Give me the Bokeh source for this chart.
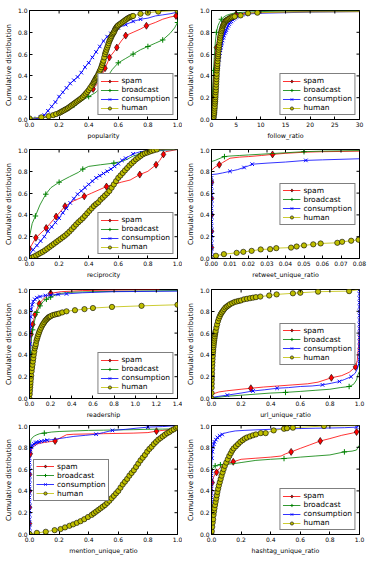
import math
from bokeh.plotting import figure
from bokeh.models import Range1d, FixedTicker, PrintfTickFormatter, Legend, LegendItem
from bokeh.layouts import column, row
from bokeh.embed import file_html
from bokeh.resources import INLINE

FONT = "DejaVu Sans"
SERIES = ["spam", "broadcast", "consumption", "human"]
COLORS = ["#ff0000", "#008000", "#0000ff", "#bfbf00"]
MARKERS = ["diamond", "cross", "x", "circle"]
Y_TICKS = [0.0, 0.2, 0.4, 0.6, 0.8, 1.0]
Y_LABEL = "Cumulative distribution"

# ---------------- popularity ----------------
pop_xticks = [0.0, 0.2, 0.4, 0.6, 0.8, 1.0]
pop_spam_x = [0.0, 0.05, 0.1, 0.15, 0.2, 0.25, 0.3, 0.35, 0.4, 0.43, 0.46, 0.48, 0.5, 0.51, 0.53, 0.54, 0.57, 0.59, 0.62, 0.65, 0.7, 0.75, 0.79, 0.85, 0.9, 0.95, 0.99, 1.0]
pop_spam_y = [0.0, 0.01, 0.02, 0.04, 0.07, 0.1, 0.14, 0.18, 0.24, 0.28, 0.33, 0.38, 0.44, 0.47, 0.53, 0.57, 0.62, 0.66, 0.72, 0.77, 0.8, 0.83, 0.86, 0.89, 0.92, 0.94, 0.95, 0.96]
pop_spam_mx = [0.43, 0.48, 0.51, 0.54, 0.59, 0.65, 0.79, 0.99]
pop_spam_my = [0.28, 0.38, 0.47, 0.57, 0.66, 0.77, 0.86, 0.95]
pop_bc_x = [0.0, 0.1, 0.2, 0.3, 0.35, 0.4, 0.45, 0.47, 0.5, 0.53, 0.56, 0.6, 0.65, 0.7, 0.75, 0.8, 0.85, 0.9, 0.95, 0.98, 1.0]
pop_bc_y = [0.01, 0.02, 0.06, 0.13, 0.17, 0.21, 0.25, 0.28, 0.32, 0.4, 0.46, 0.52, 0.56, 0.6, 0.64, 0.67, 0.7, 0.73, 0.79, 0.84, 0.89]
pop_bc_mx = [0.3, 0.4, 0.5, 0.6, 0.7, 0.8, 0.9, 1.0]
pop_bc_my = [0.13, 0.21, 0.32, 0.52, 0.6, 0.67, 0.73, 0.89]
pop_cons_x = [0.0, 0.025, 0.05, 0.075, 0.1, 0.125, 0.15, 0.175, 0.2, 0.225, 0.25, 0.275, 0.3, 0.325, 0.35, 0.375, 0.4, 0.425, 0.45, 0.475, 0.5, 0.525, 0.55, 0.575, 0.6, 0.65, 0.7, 0.75, 0.8, 0.85, 0.9, 0.95, 1.0]
pop_cons_y = [0.0, 0.005, 0.01, 0.02, 0.04, 0.08, 0.12, 0.16, 0.21, 0.25, 0.29, 0.33, 0.36, 0.39, 0.43, 0.48, 0.52, 0.57, 0.62, 0.67, 0.72, 0.76, 0.79, 0.82, 0.84, 0.87, 0.9, 0.92, 0.93, 0.95, 0.96, 0.97, 0.985]
pop_hum_pts = [
    (0.0, 0.01), (0.08, 0.02), (0.13, 0.03), (0.16, 0.04), (0.18, 0.05), (0.2, 0.06), (0.21, 0.067),
    (0.22, 0.075), (0.23, 0.082), (0.24, 0.09), (0.25, 0.097), (0.26, 0.105), (0.27, 0.115), (0.28, 0.125),
    (0.29, 0.135), (0.3, 0.145), (0.31, 0.155), (0.32, 0.165), (0.33, 0.175), (0.34, 0.185), (0.35, 0.195),
    (0.36, 0.207), (0.37, 0.222), (0.38, 0.237), (0.39, 0.253), (0.4, 0.27), (0.41, 0.29), (0.42, 0.31),
    (0.43, 0.33), (0.435, 0.342), (0.44, 0.355), (0.445, 0.367), (0.45, 0.38), (0.455, 0.39), (0.46, 0.4),
    (0.465, 0.415), (0.47, 0.43), (0.475, 0.445), (0.48, 0.46), (0.485, 0.48), (0.49, 0.5), (0.495, 0.52),
    (0.5, 0.54), (0.505, 0.57), (0.51, 0.6), (0.515, 0.62), (0.52, 0.64), (0.525, 0.66), (0.53, 0.68),
    (0.535, 0.7), (0.54, 0.72), (0.545, 0.735), (0.55, 0.75), (0.555, 0.765), (0.56, 0.78), (0.565, 0.79),
    (0.57, 0.8), (0.575, 0.815), (0.58, 0.83), (0.585, 0.84), (0.59, 0.85), (0.595, 0.858), (0.6, 0.865),
    (0.61, 0.875), (0.62, 0.885), (0.63, 0.895), (0.64, 0.905), (0.65, 0.915), (0.66, 0.925), (0.67, 0.933),
    (0.68, 0.94), (0.69, 0.945), (0.7, 0.95), (0.75, 0.97), (0.8, 0.98), (0.87, 0.99), (1.0, 1.0)]

# ---------------- follow_ratio ----------------
fr_xticks = [0, 5, 10, 15, 20, 25, 30]
fr_spam_x = [0.0, 0.1, 0.2, 0.3, 0.5, 0.7, 1.0, 1.3, 1.7, 2.2, 3.0, 4.0, 5.0, 7.0, 10.0, 15.0, 20.0, 30.0]
fr_spam_y = [0.0, 0.1, 0.19, 0.3, 0.45, 0.57, 0.66, 0.75, 0.83, 0.88, 0.92, 0.95, 0.965, 0.975, 0.98, 0.985, 0.99, 0.99]
fr_spam_mx = [0.2, 1.0, 5.0]
fr_spam_my = [0.19, 0.66, 0.965]
fr_bc_x = [0.0, 0.1, 0.2, 0.3, 0.4, 0.6, 0.8, 1.0, 1.3, 1.6, 2.0, 2.5, 3.0, 4.0, 5.0, 7.0, 10.0, 15.0, 30.0]
fr_bc_y = [0.0, 0.15, 0.25, 0.35, 0.45, 0.6, 0.72, 0.8, 0.86, 0.89, 0.92, 0.94, 0.955, 0.97, 0.98, 0.985, 0.99, 0.995, 0.995]
fr_bc_mx = [0.4, 1.0, 2.0]
fr_bc_my = [0.45, 0.8, 0.92]
fr_cons_x = [0.0, 0.5, 0.6, 0.7, 0.8, 0.9, 1.0, 1.1, 1.2, 1.3, 1.4, 1.5, 1.6, 1.7, 1.8, 1.9, 2.0, 2.1, 2.25, 2.4, 2.55, 2.7, 2.85, 3.0, 3.2, 3.4, 3.6, 3.8, 4.05, 4.3, 4.55, 4.8, 5.05, 5.3, 5.65, 6.0, 7.0, 8.0, 10.0, 15.0, 20.0, 30.0]
fr_cons_y = [0.0, 0.01, 0.03, 0.08, 0.15, 0.22, 0.3, 0.37, 0.43, 0.48, 0.515, 0.55, 0.58, 0.61, 0.635, 0.66, 0.68, 0.7, 0.725, 0.75, 0.77, 0.79, 0.805, 0.82, 0.84, 0.86, 0.875, 0.89, 0.9, 0.915, 0.925, 0.935, 0.943, 0.95, 0.955, 0.96, 0.965, 0.97, 0.975, 0.98, 0.985, 0.99]
fr_hum_pts = [
    (0.3, 0.0), (0.38, 0.012), (0.44, 0.025), (0.5, 0.045), (0.54, 0.06), (0.58, 0.08), (0.62, 0.1),
    (0.66, 0.12), (0.7, 0.145), (0.73, 0.165), (0.76, 0.185), (0.79, 0.205), (0.82, 0.225), (0.85, 0.25),
    (0.88, 0.27), (0.91, 0.295), (0.94, 0.32), (0.97, 0.345), (1.0, 0.37), (1.03, 0.395), (1.06, 0.42),
    (1.1, 0.45), (1.13, 0.47), (1.16, 0.49), (1.2, 0.51), (1.24, 0.535), (1.28, 0.56), (1.32, 0.58),
    (1.36, 0.6), (1.4, 0.62), (1.45, 0.64), (1.5, 0.66), (1.56, 0.68), (1.62, 0.705), (1.68, 0.725),
    (1.75, 0.75), (1.82, 0.77), (1.9, 0.79), (2.0, 0.81), (2.1, 0.825), (2.2, 0.84), (2.3, 0.855),
    (2.4, 0.865), (2.5, 0.875), (2.6, 0.885), (2.75, 0.895), (2.9, 0.905), (3.05, 0.91), (3.2, 0.915),
    (3.4, 0.92), (3.6, 0.927), (3.85, 0.933), (4.1, 0.938), (4.4, 0.942), (4.7, 0.945), (5.9, 0.955),
    (7.4, 0.975), (9.3, 0.98), (15.0, 0.985), (30.0, 0.99)]

# ---------------- reciprocity ----------------
rec_xticks = [0.0, 0.2, 0.4, 0.6, 0.8, 1.0]
rec_spam_x = [0.0, 0.043, 0.113, 0.18, 0.24, 0.3, 0.37, 0.42, 0.47, 0.52, 0.57, 0.62, 0.68, 0.745, 0.8, 0.855, 0.88, 0.905, 0.92, 1.0]
rec_spam_y = [0.09, 0.19, 0.28, 0.385, 0.48, 0.53, 0.57, 0.6, 0.63, 0.66, 0.68, 0.7, 0.72, 0.77, 0.8, 0.86, 0.9, 0.955, 0.98, 1.0]
rec_spam_mx = [0.0, 0.043, 0.113, 0.18, 0.24, 0.37, 0.52, 0.745, 0.855, 0.905]
rec_spam_my = [0.09, 0.19, 0.28, 0.385, 0.48, 0.57, 0.66, 0.77, 0.86, 0.955]
rec_bc_x = [0.0, 0.018, 0.04, 0.07, 0.09, 0.11, 0.145, 0.2, 0.27, 0.33, 0.36, 0.4, 0.48, 0.57, 0.62, 0.66, 0.7, 0.75, 0.84, 0.92, 1.0]
rec_bc_y = [0.2, 0.32, 0.39, 0.49, 0.54, 0.59, 0.65, 0.7, 0.75, 0.79, 0.82, 0.845, 0.86, 0.875, 0.89, 0.91, 0.94, 0.96, 0.98, 0.995, 1.0]
rec_bc_mx = [0.04, 0.11, 0.2, 0.36, 0.57, 0.75]
rec_bc_my = [0.39, 0.59, 0.7, 0.82, 0.875, 0.96]
rec_cons_x = [0.0, 0.025, 0.05, 0.075, 0.1, 0.125, 0.15, 0.175, 0.2, 0.225, 0.25, 0.275, 0.3, 0.325, 0.35, 0.375, 0.4, 0.425, 0.45, 0.475, 0.5, 0.525, 0.55, 0.575, 0.6, 0.625, 0.65, 0.7, 0.75, 0.85, 1.0]
rec_cons_y = [0.04, 0.08, 0.12, 0.16, 0.2, 0.25, 0.29, 0.33, 0.37, 0.42, 0.46, 0.51, 0.55, 0.59, 0.62, 0.65, 0.68, 0.71, 0.74, 0.76, 0.78, 0.8, 0.82, 0.845, 0.87, 0.9, 0.92, 0.96, 0.98, 0.995, 1.0]
rec_hum_pts = [
    (0.0, 0.0), (0.015, 0.008), (0.03, 0.017), (0.045, 0.028), (0.06, 0.04), (0.075, 0.051), (0.09, 0.062),
    (0.105, 0.075), (0.12, 0.09), (0.135, 0.105), (0.15, 0.12), (0.165, 0.135), (0.18, 0.15), (0.195, 0.165),
    (0.21, 0.18), (0.225, 0.195), (0.24, 0.21), (0.255, 0.228), (0.27, 0.247), (0.285, 0.268), (0.3, 0.29),
    (0.315, 0.312), (0.33, 0.333), (0.345, 0.351), (0.36, 0.37), (0.375, 0.392), (0.39, 0.415), (0.405, 0.438),
    (0.42, 0.46), (0.435, 0.482), (0.45, 0.5), (0.465, 0.515), (0.48, 0.54), (0.495, 0.558), (0.51, 0.578),
    (0.525, 0.598), (0.54, 0.62), (0.555, 0.65), (0.57, 0.68), (0.585, 0.71), (0.6, 0.74), (0.615, 0.762),
    (0.63, 0.785), (0.645, 0.808), (0.66, 0.83), (0.675, 0.853), (0.69, 0.872), (0.705, 0.891), (0.72, 0.91),
    (0.735, 0.925), (0.75, 0.94), (0.765, 0.955), (0.78, 0.965), (0.795, 0.972), (0.81, 0.98), (0.825, 0.987),
    (0.84, 0.993), (0.86, 1.0), (1.0, 1.0)]

# ---------------- retweet_unique_ratio ----------------
rt_xticks = [0.0, 0.01, 0.02, 0.03, 0.04, 0.05, 0.06, 0.07, 0.08]
rt_spam_x = [0.0, 0.0, 0.002, 0.0042, 0.006, 0.008, 0.01, 0.015, 0.02, 0.027, 0.033, 0.04, 0.05, 0.06, 0.07, 0.08]
rt_spam_y = [0.0, 0.81, 0.84, 0.86, 0.88, 0.9, 0.92, 0.93, 0.935, 0.945, 0.955, 0.965, 0.975, 0.98, 0.982, 0.985]
rt_spam_mx = [0.0, 0.0, 0.0, 0.0, 0.0, 0.0042, 0.033]
rt_spam_my = [0.1, 0.25, 0.4, 0.55, 0.7, 0.86, 0.955]
rt_bc_x = [0.0, 0.0, 0.002, 0.004, 0.007, 0.01, 0.015, 0.02, 0.03, 0.04, 0.05, 0.06, 0.08]
rt_bc_y = [0.0, 0.89, 0.9, 0.915, 0.935, 0.94, 0.945, 0.95, 0.96, 0.97, 0.98, 0.985, 0.99]
rt_bc_mx = [0.007, 0.05]
rt_bc_my = [0.935, 0.98]
rt_cons_x = [0.0, 0.0, 0.003, 0.006, 0.01, 0.014, 0.0176, 0.02, 0.022, 0.03, 0.04, 0.051, 0.06, 0.07, 0.08]
rt_cons_y = [0.0, 0.77, 0.775, 0.785, 0.8, 0.815, 0.835, 0.85, 0.865, 0.875, 0.885, 0.9, 0.905, 0.91, 0.915]
rt_cons_edge_y = [0.02, 0.06, 0.1, 0.14, 0.18, 0.22, 0.26, 0.3, 0.34, 0.38, 0.42, 0.46, 0.5, 0.54, 0.58, 0.62, 0.66, 0.7, 0.74]
rt_cons_mx = [0.0] * len(rt_cons_edge_y) + [0.01, 0.0176, 0.022, 0.051]
rt_cons_my = rt_cons_edge_y + [0.8, 0.835, 0.865, 0.9]
rt_hum_x = [0.0, 0.0005, 0.0024, 0.0067, 0.0136, 0.0172, 0.0217, 0.0266, 0.0317, 0.035, 0.043, 0.046, 0.05, 0.055, 0.059, 0.068, 0.0706, 0.0755, 0.0795, 0.08]
rt_hum_y = [0.0, 0.02, 0.025, 0.04, 0.052, 0.061, 0.07, 0.083, 0.086, 0.095, 0.1, 0.11, 0.12, 0.13, 0.138, 0.144, 0.153, 0.163, 0.172, 0.175]

# ---------------- readership ----------------
rd_xticks = [0.0, 0.2, 0.4, 0.6, 0.8, 1.0, 1.2, 1.4]
rd_spam_x = [0.0, 0.003, 0.007, 0.015, 0.022, 0.031, 0.042, 0.053, 0.07, 0.093, 0.12, 0.15, 0.2, 0.3, 0.5, 0.8, 1.23]
rd_spam_y = [0.0, 0.3, 0.45, 0.59, 0.64, 0.68, 0.73, 0.77, 0.82, 0.87, 0.9, 0.93, 0.965, 0.98, 0.99, 0.995, 1.0]
rd_spam_mx = [0.015, 0.031, 0.053, 0.093, 0.2]
rd_spam_my = [0.59, 0.68, 0.77, 0.87, 0.965]
rd_bc_x = [0.0, 0.003, 0.006, 0.01, 0.015, 0.02, 0.03, 0.04, 0.05, 0.07, 0.1, 0.13, 0.16, 0.2, 0.25, 0.3, 0.4, 0.6, 1.0, 1.4]
rd_bc_y = [0.0, 0.15, 0.3, 0.42, 0.5, 0.56, 0.63, 0.68, 0.72, 0.79, 0.85, 0.89, 0.91, 0.93, 0.95, 0.965, 0.975, 0.98, 0.985, 0.99]
rd_bc_mx = [0.01, 0.03, 0.07, 0.1, 0.16, 0.2]
rd_bc_my = [0.42, 0.63, 0.79, 0.85, 0.91, 0.93]
rd_cons_x = [0.0, 0.001, 0.003, 0.005, 0.008, 0.012, 0.017, 0.025, 0.035, 0.05, 0.07, 0.1, 0.15, 0.2, 0.27, 0.35, 0.5, 0.8, 1.4]
rd_cons_y = [0.0, 0.2, 0.35, 0.5, 0.65, 0.75, 0.82, 0.86, 0.89, 0.91, 0.925, 0.935, 0.945, 0.95, 0.955, 0.96, 0.97, 0.98, 0.985]
rd_hum_x = [0.0, 0.002, 0.004, 0.006, 0.008, 0.01, 0.013, 0.016, 0.02, 0.024, 0.028, 0.032, 0.036, 0.04, 0.045, 0.05, 0.055, 0.06, 0.066, 0.072, 0.078, 0.085, 0.092, 0.1, 0.11, 0.12, 0.13, 0.14, 0.15, 0.16, 0.17, 0.18, 0.19, 0.2, 0.22, 0.24, 0.26, 0.28, 0.31, 0.35, 0.43, 0.52, 0.6, 0.78, 1.06, 1.4]
rd_hum_y = [0.0, 0.04, 0.07, 0.1, 0.125, 0.15, 0.18, 0.21, 0.25, 0.28, 0.31, 0.34, 0.37, 0.4, 0.43, 0.46, 0.48, 0.5, 0.53, 0.55, 0.57, 0.59, 0.61, 0.63, 0.65, 0.67, 0.685, 0.7, 0.715, 0.725, 0.735, 0.745, 0.75, 0.755, 0.765, 0.77, 0.775, 0.78, 0.79, 0.8, 0.81, 0.82, 0.83, 0.84, 0.85, 0.86]

# ---------------- url_unique_ratio ----------------
url_xticks = [0.0, 0.2, 0.4, 0.6, 0.8, 1.0]
url_spam_x = [0.0, 0.05, 0.1, 0.2, 0.266, 0.35, 0.45, 0.55, 0.65, 0.72, 0.81, 0.88, 0.93, 0.973, 0.985, 0.995, 1.0, 1.0]
url_spam_y = [0.0375, 0.06, 0.07, 0.085, 0.094, 0.105, 0.115, 0.125, 0.135, 0.15, 0.19, 0.21, 0.24, 0.29, 0.35, 0.5, 0.7, 1.0]
url_spam_mx = [0.266, 0.81, 0.973]
url_spam_my = [0.094, 0.19, 0.29]
url_bc_x = [0.0, 0.1, 0.2, 0.3, 0.4, 0.5, 0.6, 0.7, 0.8, 0.87, 0.93, 0.96, 0.98, 0.99, 1.0, 1.0]
url_bc_y = [0.005, 0.02, 0.03, 0.04, 0.05, 0.056, 0.065, 0.075, 0.085, 0.1, 0.11, 0.13, 0.17, 0.22, 0.25, 1.0]
url_bc_mx = [0.5, 0.93]
url_bc_my = [0.056, 0.11]
url_cons_x = [0.0, 0.05, 0.107, 0.2, 0.28, 0.36, 0.443, 0.52, 0.6, 0.68, 0.75, 0.81, 0.864, 0.9, 0.943, 0.97, 0.985, 0.995, 1.0, 1.0]
url_cons_y = [0.01, 0.02, 0.031, 0.05, 0.069, 0.08, 0.094, 0.1, 0.11, 0.115, 0.125, 0.14, 0.156, 0.175, 0.2, 0.23, 0.27, 0.32, 0.4, 1.0]
url_cons_edge_y = [0.32, 0.36, 0.4, 0.44, 0.48, 0.52, 0.56, 0.6, 0.64, 0.68, 0.72, 0.76, 0.8, 0.84, 0.88, 0.92, 0.96, 1.0]
url_cons_mx = [0.107, 0.28, 0.443, 0.75, 0.864, 0.943] + [1.0] * len(url_cons_edge_y)
url_cons_my = [0.031, 0.069, 0.094, 0.125, 0.156, 0.2] + url_cons_edge_y
url_hum_pts = [
    (0.0, 0.0), (0.0005, 0.05), (0.001, 0.1), (0.0015, 0.135), (0.002, 0.17), (0.0025, 0.2), (0.003, 0.23),
    (0.004, 0.265), (0.005, 0.3), (0.006, 0.33), (0.007, 0.36), (0.0085, 0.39), (0.01, 0.42), (0.0115, 0.445),
    (0.013, 0.47), (0.0145, 0.49), (0.016, 0.51), (0.018, 0.53), (0.02, 0.55), (0.022, 0.57), (0.024, 0.59),
    (0.026, 0.605), (0.028, 0.62), (0.033, 0.65), (0.038, 0.68), (0.044, 0.71), (0.05, 0.735), (0.056, 0.755),
    (0.063, 0.775), (0.07, 0.79), (0.078, 0.805), (0.086, 0.82), (0.095, 0.835), (0.105, 0.845), (0.115, 0.855),
    (0.125, 0.865), (0.14, 0.875), (0.155, 0.885), (0.17, 0.89), (0.185, 0.895), (0.2, 0.9), (0.22, 0.91),
    (0.24, 0.915), (0.26, 0.92), (0.28, 0.925), (0.3, 0.93), (0.33, 0.935), (0.39, 0.945), (0.44, 0.955),
    (0.55, 0.965), (0.6, 0.97), (0.72, 0.98), (0.93, 0.985), (1.0, 1.0)]

# ---------------- mention_unique_ratio ----------------
mn_xticks = [0.0, 0.2, 0.4, 0.6, 0.8, 1.0]
mn_spam_x = [0.0, 0.0, 0.005, 0.01, 0.02, 0.035, 0.06, 0.1, 0.173, 0.2, 0.25, 0.3, 0.5, 0.7, 0.8, 0.858, 0.93, 1.0]
mn_spam_y = [0.0, 0.7, 0.74, 0.77, 0.8, 0.82, 0.835, 0.845, 0.858, 0.88, 0.915, 0.92, 0.925, 0.93, 0.935, 0.948, 0.96, 0.98]
mn_spam_mx = [0.0, 0.0, 0.0, 0.0, 0.005, 0.173, 0.858]
mn_spam_my = [0.1, 0.25, 0.4, 0.55, 0.74, 0.858, 0.948]
mn_bc_x = [0.0, 0.0, 0.003, 0.006, 0.01, 0.02, 0.035, 0.05, 0.07, 0.1, 0.15, 0.2, 0.3, 0.4, 0.5, 0.6, 0.7, 0.8, 0.9, 1.0]
mn_bc_y = [0.0, 0.75, 0.8, 0.84, 0.87, 0.89, 0.905, 0.915, 0.925, 0.93, 0.94, 0.945, 0.95, 0.955, 0.957, 0.96, 0.962, 0.965, 0.967, 0.97]
mn_bc_mx = [0.003, 0.1]
mn_bc_my = [0.8, 0.93]
mn_cons_x = [0.0, 0.0, 0.003, 0.006, 0.01, 0.015, 0.02, 0.03, 0.04, 0.05, 0.065, 0.08, 0.1, 0.12, 0.15, 0.2, 0.25, 0.3, 0.38, 0.45, 0.5, 0.56, 0.65, 0.72, 0.8, 0.9, 1.0]
mn_cons_y = [0.0, 0.72, 0.76, 0.78, 0.8, 0.81, 0.82, 0.83, 0.84, 0.845, 0.85, 0.855, 0.86, 0.865, 0.87, 0.88, 0.89, 0.9, 0.91, 0.92, 0.935, 0.955, 0.965, 0.975, 0.985, 0.99, 1.0]
mn_cons_edge_y = [0.02, 0.06, 0.1, 0.14, 0.18, 0.22, 0.26, 0.3, 0.34, 0.38, 0.42, 0.46, 0.5, 0.54, 0.58, 0.62, 0.66, 0.7]
mn_cons_mx = [0.0] * len(mn_cons_edge_y) + mn_cons_x[2:14] + [0.45, 0.56, 0.8]
mn_cons_my = mn_cons_edge_y + mn_cons_y[2:14] + [0.92, 0.955, 0.985]
mn_hum_pts = [
    (0.0, 0.005), (0.05, 0.015), (0.11, 0.025), (0.17, 0.04), (0.21, 0.05), (0.24, 0.065), (0.27, 0.08),
    (0.295, 0.093), (0.32, 0.107), (0.345, 0.122), (0.37, 0.14), (0.395, 0.16), (0.42, 0.18), (0.435, 0.195),
    (0.45, 0.21), (0.465, 0.225), (0.48, 0.24), (0.495, 0.255), (0.51, 0.27), (0.525, 0.29), (0.54, 0.31),
    (0.555, 0.333), (0.57, 0.355), (0.585, 0.378), (0.6, 0.4), (0.615, 0.43), (0.63, 0.46), (0.645, 0.485),
    (0.66, 0.51), (0.675, 0.54), (0.69, 0.565), (0.705, 0.59), (0.72, 0.62), (0.735, 0.65), (0.75, 0.68),
    (0.765, 0.705), (0.78, 0.73), (0.795, 0.76), (0.81, 0.785), (0.825, 0.805), (0.84, 0.83), (0.855, 0.85),
    (0.87, 0.87), (0.885, 0.885), (0.9, 0.9), (0.915, 0.915), (0.93, 0.93), (0.945, 0.94), (0.96, 0.955),
    (0.975, 0.965), (0.99, 0.98), (1.0, 0.99)]

# ---------------- hashtag_unique_ratio ----------------
ht_xticks = [0.0, 0.2, 0.4, 0.6, 0.8, 1.0]
ht_spam_x = [0.0, 0.0, 0.0045, 0.012, 0.022, 0.034, 0.05, 0.07, 0.1, 0.147, 0.2, 0.3, 0.4, 0.47, 0.5, 0.538, 0.6, 0.66, 0.735, 0.8, 0.88, 0.95, 0.98, 1.0]
ht_spam_y = [0.0, 0.3, 0.476, 0.52, 0.55, 0.57, 0.6, 0.63, 0.65, 0.667, 0.69, 0.7, 0.71, 0.72, 0.74, 0.758, 0.79, 0.82, 0.858, 0.88, 0.91, 0.93, 0.94, 0.955]
ht_spam_mx = [0.0045, 0.034, 0.147, 0.538, 0.735, 0.98]
ht_spam_my = [0.476, 0.57, 0.667, 0.758, 0.858, 0.94]
ht_bc_x = [0.0, 0.0, 0.003, 0.008, 0.015, 0.025, 0.04, 0.06, 0.1, 0.15, 0.2, 0.3, 0.4, 0.49, 0.6, 0.7, 0.8, 0.898, 0.95, 0.98, 0.99, 1.0]
ht_bc_y = [0.0, 0.55, 0.59, 0.61, 0.62, 0.63, 0.635, 0.64, 0.645, 0.65, 0.66, 0.68, 0.69, 0.697, 0.71, 0.72, 0.73, 0.758, 0.765, 0.775, 0.8, 0.82]
ht_bc_mx = [0.025, 0.06, 0.49, 0.898]
ht_bc_my = [0.63, 0.64, 0.697, 0.758]
ht_cons_x = [0.0, 0.0, 0.003, 0.006, 0.01, 0.015, 0.02, 0.03, 0.04, 0.055, 0.072, 0.09, 0.12, 0.16, 0.22, 0.3, 0.4, 0.5, 0.6, 0.7, 0.8, 0.9, 0.98, 1.0]
ht_cons_y = [0.0, 0.6, 0.7, 0.76, 0.8, 0.83, 0.85, 0.87, 0.89, 0.905, 0.918, 0.93, 0.94, 0.95, 0.955, 0.96, 0.965, 0.97, 0.972, 0.975, 0.977, 0.98, 0.985, 1.0]
ht_cons_edge_y = [0.02, 0.06, 0.1, 0.14, 0.18, 0.22, 0.26, 0.3, 0.34, 0.38, 0.42, 0.46, 0.5, 0.54, 0.58]
ht_cons_mx = [0.0] * len(ht_cons_edge_y) + ht_cons_x[2:11] + [0.98]
ht_cons_my = ht_cons_edge_y + ht_cons_y[2:11] + [0.985]
ht_hum_x = [0.0, 0.002, 0.005, 0.008, 0.011, 0.014, 0.017, 0.02, 0.024, 0.028, 0.032, 0.036, 0.04, 0.045, 0.05, 0.056, 0.062, 0.068, 0.075, 0.082, 0.09, 0.1, 0.11, 0.12, 0.13, 0.14, 0.15, 0.165, 0.18, 0.195, 0.21, 0.225, 0.24, 0.26, 0.28, 0.3, 0.333, 0.366, 0.42, 0.49, 0.51, 0.55, 0.76, 1.0]
ht_hum_y = [0.0, 0.03, 0.07, 0.11, 0.14, 0.18, 0.21, 0.24, 0.27, 0.3, 0.33, 0.36, 0.39, 0.42, 0.45, 0.48, 0.51, 0.54, 0.57, 0.6, 0.63, 0.66, 0.69, 0.72, 0.745, 0.77, 0.79, 0.81, 0.83, 0.85, 0.865, 0.88, 0.89, 0.9, 0.91, 0.918, 0.93, 0.93, 0.955, 0.97, 0.975, 0.98, 0.995, 1.0]


def xs(pts):
    return [p[0] for p in pts]


def ys(pts):
    return [p[1] for p in pts]


PANELS = [
    dict(xlabel="popularity", xr=(0, 1), xticks=pop_xticks, fmt="%.1f", legend="bottom_right",
         series=[(pop_spam_x, pop_spam_y, pop_spam_mx, pop_spam_my),
                 (pop_bc_x, pop_bc_y, pop_bc_mx, pop_bc_my),
                 (pop_cons_x, pop_cons_y, pop_cons_x[1:28], pop_cons_y[1:28]),
                 (xs(pop_hum_pts), ys(pop_hum_pts), xs(pop_hum_pts), ys(pop_hum_pts))]),
    dict(xlabel="follow_ratio", xr=(0, 30), xticks=fr_xticks, fmt="%d", legend="bottom_right",
         series=[(fr_spam_x, fr_spam_y, fr_spam_mx, fr_spam_my),
                 (fr_bc_x, fr_bc_y, fr_bc_mx, fr_bc_my),
                 (fr_cons_x, fr_cons_y, fr_cons_x[2:37], fr_cons_y[2:37]),
                 (xs(fr_hum_pts), ys(fr_hum_pts), xs(fr_hum_pts[:-2]), ys(fr_hum_pts[:-2]))]),
    dict(xlabel="reciprocity", xr=(0, 1), xticks=rec_xticks, fmt="%.1f", legend="bottom_right",
         series=[(rec_spam_x, rec_spam_y, rec_spam_mx, rec_spam_my),
                 (rec_bc_x, rec_bc_y, rec_bc_mx, rec_bc_my),
                 (rec_cons_x, rec_cons_y, rec_cons_x[:28], rec_cons_y[:28]),
                 (xs(rec_hum_pts), ys(rec_hum_pts), xs(rec_hum_pts[:-1]), ys(rec_hum_pts[:-1]))]),
    dict(xlabel="retweet_unique_ratio", xr=(0, 0.08), xticks=rt_xticks, fmt="%.2f", legend="center_right",
         series=[(rt_spam_x, rt_spam_y, rt_spam_mx, rt_spam_my),
                 (rt_bc_x, rt_bc_y, rt_bc_mx, rt_bc_my),
                 (rt_cons_x, rt_cons_y, rt_cons_mx, rt_cons_my),
                 (rt_hum_x, rt_hum_y, rt_hum_x[2:19], rt_hum_y[2:19])]),
    dict(xlabel="readership", xr=(0, 1.4), xticks=rd_xticks, fmt="%.1f", legend="bottom_right",
         series=[(rd_spam_x, rd_spam_y, rd_spam_mx, rd_spam_my),
                 (rd_bc_x, rd_bc_y, rd_bc_mx, rd_bc_my),
                 (rd_cons_x, rd_cons_y, rd_cons_x[1:16], rd_cons_y[1:16]),
                 (rd_hum_x, rd_hum_y, rd_hum_x, rd_hum_y)]),
    dict(xlabel="url_unique_ratio", xr=(0, 1), xticks=url_xticks, fmt="%.1f", legend="center_right",
         series=[(url_spam_x, url_spam_y, url_spam_mx, url_spam_my),
                 (url_bc_x, url_bc_y, url_bc_mx, url_bc_my),
                 (url_cons_x, url_cons_y, url_cons_mx, url_cons_my),
                 (xs(url_hum_pts), ys(url_hum_pts), xs(url_hum_pts[:-1]), ys(url_hum_pts[:-1]))]),
    dict(xlabel="mention_unique_ratio", xr=(0, 1), xticks=mn_xticks, fmt="%.1f", legend="center_left",
         series=[(mn_spam_x, mn_spam_y, mn_spam_mx, mn_spam_my),
                 (mn_bc_x, mn_bc_y, mn_bc_mx, mn_bc_my),
                 (mn_cons_x, mn_cons_y, mn_cons_mx, mn_cons_my),
                 (xs(mn_hum_pts), ys(mn_hum_pts), xs(mn_hum_pts), ys(mn_hum_pts))]),
    dict(xlabel="hashtag_unique_ratio", xr=(0, 1), xticks=ht_xticks, fmt="%.1f", legend="bottom_right",
         series=[(ht_spam_x, ht_spam_y, ht_spam_mx, ht_spam_my),
                 (ht_bc_x, ht_bc_y, ht_bc_mx, ht_bc_my),
                 (ht_cons_x, ht_cons_y, ht_cons_mx, ht_cons_my),
                 (ht_hum_x, ht_hum_y, ht_hum_x[:43], ht_hum_y[:43])]),
]

MARKER_STYLE = [
    dict(size=7, fill_color="#ff0000", line_color="black", line_width=0.6),
    dict(size=5.5, fill_color=None, line_color="#008000", line_width=1),
    dict(size=5, fill_color=None, line_color="#0000ff", line_width=1),
    dict(size=5.3, fill_color="#bfbf00", line_color="black", line_width=0.6),
]


def style_axis(ax, label_size):
    ax.major_tick_in = 3
    ax.major_tick_out = 0
    ax.minor_tick_line_color = None
    ax.axis_line_color = "black"
    ax.major_tick_line_color = "black"
    ax.major_label_text_font = FONT
    ax.major_label_text_font_size = "6px"
    ax.major_label_text_color = "black"
    ax.major_label_standoff = 2
    ax.axis_label_text_font = FONT
    ax.axis_label_text_font_style = "normal"
    ax.axis_label_text_font_size = label_size
    ax.axis_label_text_color = "black"
    ax.axis_label_standoff = 2


def make_panel(cfg, width, height, b_left, b_right, b_top, b_bottom):
    x0, x1 = cfg["xr"]
    p = figure(width=width, height=height, x_range=Range1d(x0, x1), y_range=Range1d(0, 1),
               output_backend="svg", toolbar_location=None,
               min_border_left=b_left, min_border_right=b_right,
               min_border_top=b_top, min_border_bottom=b_bottom)
    p.xgrid.visible = False
    p.ygrid.visible = False
    p.background_fill_color = "white"
    p.border_fill_color = "white"
    p.outline_line_color = "black"
    p.outline_line_width = 1
    p.outline_line_alpha = 1

    xa = p.xaxis[0]
    xa.ticker = FixedTicker(ticks=cfg["xticks"])
    xa.formatter = PrintfTickFormatter(format=cfg["fmt"])
    xa.axis_label = cfg["xlabel"]
    style_axis(xa, "6.3px")
    ya = p.yaxis[0]
    ya.ticker = FixedTicker(ticks=Y_TICKS)
    ya.formatter = PrintfTickFormatter(format="%.1f")
    ya.axis_label = Y_LABEL
    style_axis(ya, "7px")

    items = []
    for name, color, marker, mstyle, (x, y, mx, my) in zip(SERIES, COLORS, MARKERS, MARKER_STYLE, cfg["series"]):
        ln = p.line(x, y, line_color=color, line_width=1, line_alpha=0.8)
        sc = p.scatter(mx, my, marker=marker, **mstyle)
        items.append(LegendItem(label=name, renderers=[ln, sc]))

    # inward ticks on the top and right spines (half of each dash is clipped by the frame)
    p.scatter(cfg["xticks"], [1.0] * len(cfg["xticks"]), marker="dash", angle=math.pi / 2,
              size=6, line_color="black", line_width=1)
    p.scatter([x1] * len(Y_TICKS), Y_TICKS, marker="dash", size=6, line_color="black", line_width=1)

    leg = Legend(items=items, location=cfg["legend"])
    leg.label_text_font = FONT
    leg.label_text_font_size = "7.5px"
    leg.label_text_color = "black"
    leg.glyph_width = 18
    leg.glyph_height = 8
    leg.label_height = 8
    leg.label_standoff = 3
    leg.spacing = 0
    leg.padding = 2
    leg.margin = 4
    leg.border_line_color = "black"
    leg.border_line_width = 1
    leg.background_fill_color = "white"
    leg.background_fill_alpha = 1
    p.add_layout(leg)
    return p


ROW_HEIGHTS = [147, 140, 136, 135]
ROW_TOP = [10, 2, 2, 2]
ROW_BOTTOM = [28, 29, 25, 24]

rows = []
for r in range(4):
    left = make_panel(PANELS[2 * r], 182, ROW_HEIGHTS[r], 29, 5, ROW_TOP[r], ROW_BOTTOM[r])
    right = make_panel(PANELS[2 * r + 1], 187, ROW_HEIGHTS[r], 29, 10, ROW_TOP[r], ROW_BOTTOM[r])
    rows.append(row(left, right))

layout = column(*rows)
open("out.html", "w").write(file_html(layout, INLINE))
